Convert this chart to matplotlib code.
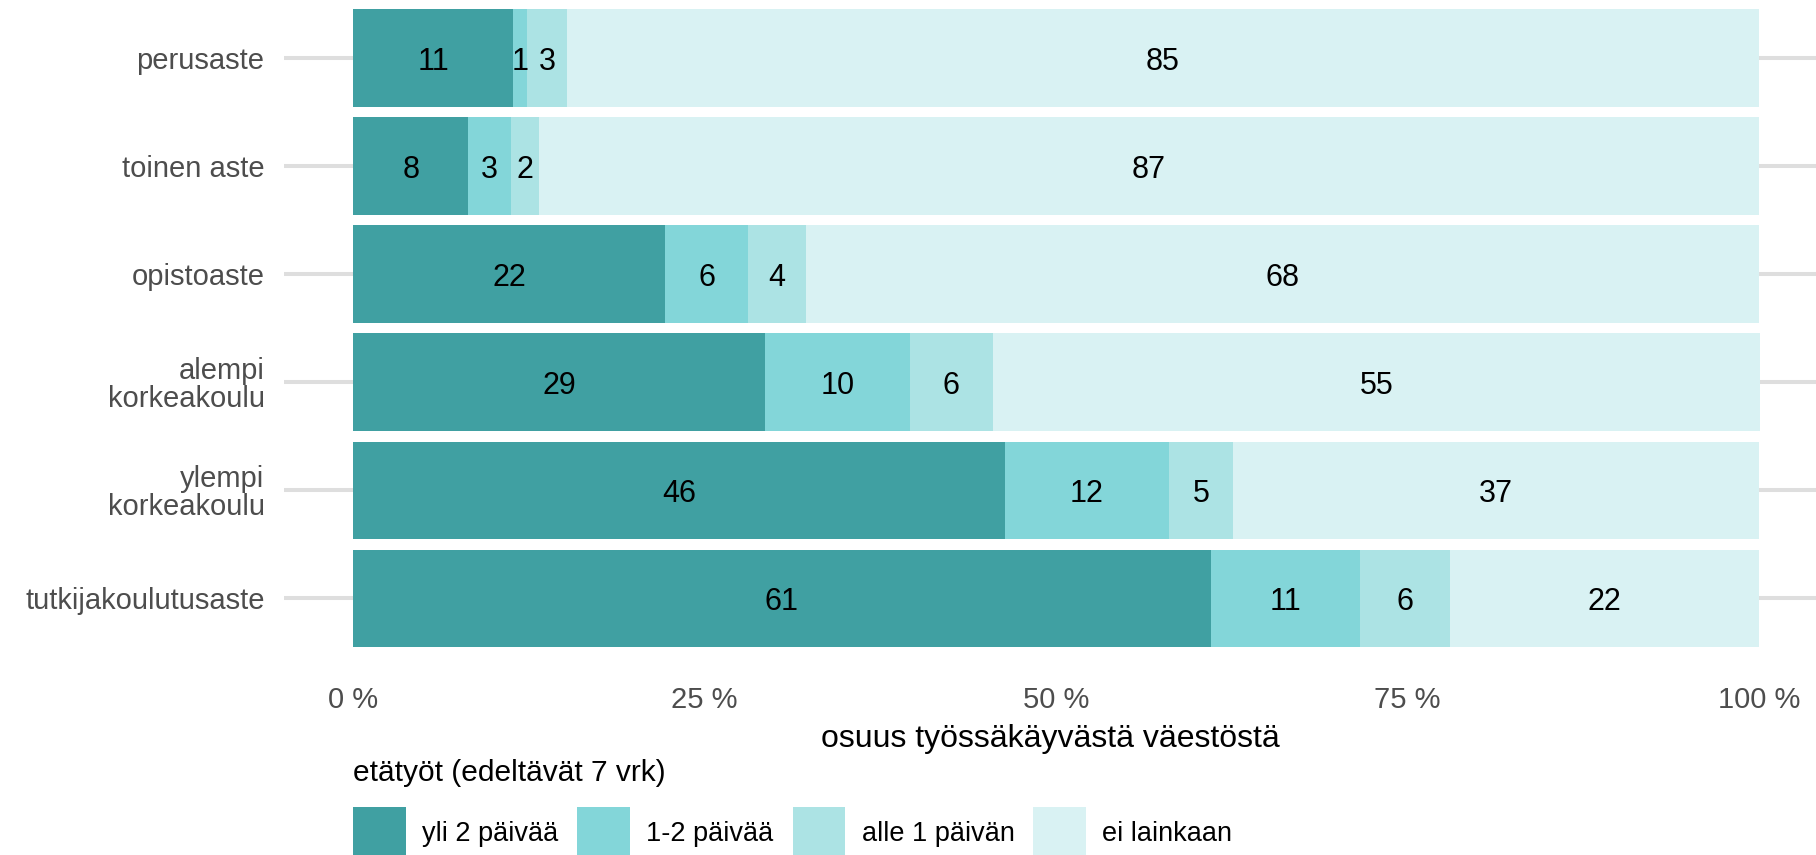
import matplotlib
matplotlib.use("Agg")
import matplotlib.pyplot as plt
import numpy as np

# education levels, top to bottom
levels = ["perusaste", "toinen aste", "opistoaste", "alempi\nkorkeakoulu",
          "ylempi\nkorkeakoulu", "tutkijakoulutusaste"]

# share of working population (%) by amount of remote work in previous 7 days
series_names = ["yli 2 päivää", "1-2 päivää", "alle 1 päivän", "ei lainkaan"]
over_2_days = [11.4, 8.2, 22.2, 29.3, 46.4, 61.0]
one_two_days = [1.0, 3.0, 5.9, 10.3, 11.6, 10.6]
under_1_day = [2.8, 2.0, 4.1, 5.9, 4.6, 6.4]
not_at_all = [84.8, 86.8, 67.8, 54.6, 37.4, 22.0]

colors = ["#40A0A2", "#83D6D9", "#ACE3E4", "#D9F2F3"]
x_ticks = [0, 25, 50, 75, 100]
x_ticklabels = ["0 %", "25 %", "50 %", "75 %", "100 %"]

plt.rcParams["font.family"] = ["Liberation Sans", "DejaVu Sans"]

W, H = 1816, 855
fig = plt.figure(figsize=(W / 100, H / 100), dpi=100)
ax = fig.add_axes([284 / W, (H - 663) / H, 1 - 284 / W, 663 / H])

y = np.arange(len(levels))
left = np.zeros(len(levels))
all_series = [over_2_days, one_two_days, under_1_day, not_at_all]
for name, vals, col in zip(series_names, all_series, colors):
    vals = np.array(vals)
    ax.barh(y, vals, left=left, height=0.9, color=col, label=name, zorder=2)
    for yi, l, v in zip(y, left, vals):
        ax.text(l + v / 2, yi, f"{v:.0f}", ha="center", va="center_baseline",
                fontsize=22, color="black", zorder=3)
    left += vals

ax.set_xlim(-4.91, 104.05)
ax.set_ylim(5.6, -0.537)
ax.set_yticks(y)
ax.set_yticklabels(levels, fontsize=21, color="#4D4D4D", linespacing=1.0)
ax.set_xticks(x_ticks)
ax.set_xticklabels(x_ticklabels, fontsize=21, color="#4D4D4D")
ax.tick_params(axis="both", length=0)
ax.tick_params(axis="y", pad=14)
ax.tick_params(axis="x", pad=16.5)
for s in ax.spines.values():
    s.set_visible(False)
ax.grid(axis="y", color="#DEDEDE", linewidth=2.9, zorder=0)
ax.grid(axis="x", visible=False)
ax.set_axisbelow(True)
ax.set_xlabel("osuus työssäkäyvästä väestöstä", fontsize=23, labelpad=7.5)

leg = fig.legend(loc="upper left", bbox_to_anchor=(353 / W, (H - 759) / H),
                 ncol=4, frameon=False, fontsize=19.5,
                 title="etätyöt (edeltävät 7 vrk)", title_fontsize=21.5,
                 alignment="left", borderpad=0, borderaxespad=0,
                 labelspacing=0.72,
                 handlelength=1.95, handleheight=2.6, handletextpad=0.6,
                 columnspacing=0.7)

fig.savefig("out.png", dpi=100)
